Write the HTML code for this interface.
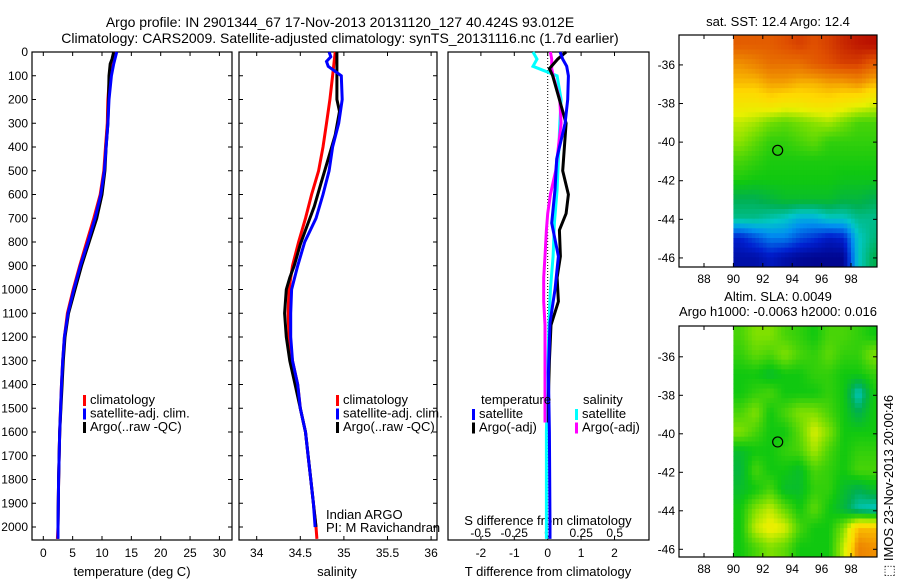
<!DOCTYPE html>
<html><head><meta charset="utf-8"><style>
body{margin:0;background:#fff}
svg{display:block;font-family:"Liberation Sans",sans-serif;font-size:13px}
</style></head><body>
<svg id="c" width="900" height="580" viewBox="0 0 900 580"></svg>
<script>
// ---------- data ----------
const depthT = [0,50,100,200,300,400,500,600,700,800,900,1000,1100,1200,1300,1400,1600,1800,2000,2050];
const tempClim = [12.2,11.8,11.3,11.0,10.9,10.6,10.3,9.7,8.6,7.4,6.2,5.1,4.1,3.6,3.3,3.1,2.8,2.6,2.5,2.4];
const tempSat  = [12.5,12.0,11.6,11.2,11.0,10.7,10.4,9.8,8.8,7.6,6.3,5.2,4.2,3.6,3.3,3.1,2.8,2.6,2.5,2.5];
const depthArgo = [0,30,50,100,200,300,400,500,600,700,800,900,1000,1100,1200,1300,1400,1600,1800,2000];
const tempArgo = [12.0,11.7,11.4,11.2,11.1,11.0,10.7,10.5,10.0,9.1,7.8,6.5,5.4,4.3,3.7,3.4,3.2,2.8,2.6,2.5];
const depthS = [0,100,200,300,400,500,600,700,800,900,1000,1100,1200,1300,1400,1500,1600,1700,1800,1900,2000,2050];
const salClim = [34.90,34.87,34.84,34.80,34.76,34.71,34.63,34.56,34.48,34.41,34.37,34.36,34.37,34.41,34.47,34.50,34.56,34.59,34.62,34.65,34.68,34.69];
const depthSS = [0,20,40,60,100,200,300,400,500,600,700,800,900,1000,1100,1200,1300,1400,1500,1600,1700,1800,1900,2000];
const salSat  = [34.83,34.85,34.80,34.82,34.97,34.98,34.94,34.87,34.83,34.76,34.68,34.55,34.47,34.40,34.39,34.39,34.41,34.47,34.50,34.56,34.59,34.62,34.65,34.67];
const depthSA = [0,100,200,250,350,450,550,650,750,810,900,950,1000,1100,1200,1300,1400,1500,1600,1800,2000];
const salArgo = [34.92,34.92,34.92,34.95,34.90,34.82,34.74,34.66,34.56,34.50,34.43,34.38,34.34,34.32,34.34,34.38,34.44,34.50,34.56,34.62,34.68];
const depthD = [0,30,60,100,200,300,450,580,720,860,1000,1140,1350,1600,2000,2050];
const dTsat = [0.37,0.45,0.57,0.62,0.60,0.52,0.27,0.22,0.12,0.32,0.22,0.07,0.02,0.05,0.07,0.07];
const dSsat = [-0.11,-0.08,-0.11,0.07,0.10,0.09,0.08,0.07,0.05,0.04,0.02,0.01,0.0,-0.01,-0.01,-0.01];
const depthDA = [0,30,70,100,200,300,400,500,600,680,750,860,950,1050,1150,1300,1450,1560];
const dTargo = [0.55,0.30,0.05,0.15,0.35,0.55,0.50,0.45,0.62,0.55,0.35,0.38,0.28,0.32,0.10,0.05,0.02,0.02];
const dSargo = [0.02,0.03,0.03,0.04,0.09,0.10,0.08,0.06,0.02,0.0,-0.01,-0.02,-0.03,-0.03,-0.02,-0.02,-0.02,-0.02];
const depthTicks = [0,100,200,300,400,500,600,700,800,900,1000,1100,1200,1300,1400,1500,1600,1700,1800,1900,2000];
const tempTicks = [0,5,10,15,20,25,30];
const salTicks = [34,34.5,35,35.5,36];
const salTickLabels = ["34","34.5","35","35.5","36"];
const dTTicks = [-2,-1,0,1,2];
const dSTicks = [-0.5,-0.25,0,0.25,0.5];
const dSTickLabels = ["-0.5","-0.25","0","0.25","0.5"];
const lonTicks = [88,90,92,94,96,98];
const latTicks = [-36,-38,-40,-42,-44,-46];
const sstGrid = [
 [0.88,0.88,0.88,0.90,0.92,0.90,0.92,0.95,0.97,0.98],
 [0.80,0.82,0.85,0.85,0.85,0.88,0.90,0.92,0.92,0.88],
 [0.75,0.75,0.78,0.78,0.76,0.76,0.78,0.78,0.80,0.76],
 [0.68,0.68,0.70,0.68,0.68,0.70,0.70,0.68,0.66,0.63],
 [0.60,0.58,0.54,0.52,0.54,0.56,0.58,0.54,0.50,0.50],
 [0.56,0.52,0.48,0.48,0.50,0.52,0.48,0.48,0.48,0.48],
 [0.50,0.48,0.46,0.46,0.46,0.46,0.46,0.46,0.46,0.46],
 [0.46,0.45,0.45,0.45,0.45,0.45,0.45,0.44,0.44,0.44],
 [0.38,0.38,0.40,0.42,0.42,0.42,0.42,0.40,0.40,0.38],
 [0.34,0.34,0.32,0.30,0.26,0.26,0.30,0.30,0.34,0.34],
 [0.10,0.15,0.20,0.20,0.15,0.12,0.08,0.10,0.30,0.35],
 [0.05,0.05,0.08,0.05,0.03,0.02,0.02,0.02,0.30,0.38]];
const slaGrid = [
 [0.50,0.55,0.55,0.50,0.48,0.45,0.50,0.50,0.48,0.45],
 [0.48,0.52,0.50,0.55,0.50,0.48,0.52,0.48,0.48,0.55],
 [0.45,0.45,0.42,0.45,0.45,0.48,0.48,0.45,0.45,0.48],
 [0.45,0.48,0.50,0.45,0.45,0.45,0.48,0.45,0.30,0.45],
 [0.50,0.55,0.45,0.50,0.55,0.55,0.50,0.45,0.38,0.45],
 [0.55,0.50,0.45,0.45,0.52,0.62,0.55,0.45,0.45,0.45],
 [0.42,0.45,0.45,0.48,0.50,0.58,0.50,0.45,0.48,0.48],
 [0.40,0.50,0.45,0.45,0.42,0.50,0.48,0.45,0.50,0.50],
 [0.42,0.45,0.50,0.42,0.42,0.48,0.48,0.42,0.38,0.42],
 [0.45,0.55,0.60,0.52,0.45,0.52,0.45,0.40,0.32,0.30],
 [0.45,0.60,0.65,0.62,0.50,0.45,0.45,0.55,0.75,0.75],
 [0.45,0.50,0.55,0.52,0.45,0.45,0.45,0.60,0.82,0.80]];
const floatLon = 93.012, floatLat = -40.424;

// ---------- helpers ----------
const svg = document.getElementById('c');
const NS = 'http://www.w3.org/2000/svg';
function mk(tag, attrs, parent){const e=document.createElementNS(NS,tag);for(const k in attrs)e.setAttribute(k,attrs[k]);(parent||svg).appendChild(e);return e;}
function txt(x,y,s,anchor,parent){const t=mk('text',{x:x,y:y,'text-anchor':anchor||'middle'},parent);t.textContent=s;return t;}
function tick(x,y,s,anchor,name){const t=txt(x,y,s,anchor);t.setAttribute('font-size','12');return t;}
const yD = d => 52 + d*0.2375;
const PT=52, PB=540;
function frame(x0,x1,name){const r=mk('rect',{x:x0,y:PT,width:x1-x0,height:PB-PT,fill:'none',stroke:'#000','stroke-width':1.2});}
function depthTickMarks(x0,x1){depthTicks.forEach(d=>{mk('line',{x1:x0,y1:yD(d),x2:x0+4,y2:yD(d),stroke:'#000'});mk('line',{x1:x1,y1:yD(d),x2:x1-4,y2:yD(d),stroke:'#000'});});}
function profile(depths,vals,sx,color,name,w){const pts=depths.map((d,i)=>sx(vals[i]).toFixed(1)+','+yD(d).toFixed(1)).join(' ');const p=mk('polyline',{points:pts,fill:'none',stroke:color,'stroke-width':w||3,'stroke-linejoin':'miter'});}
function legend(x,y,items,parent){items.forEach((it,i)=>{mk('rect',{x:x,y:y+i*13.5-9,width:3,height:11,fill:it[0]});const t=txt(x+7,y+i*13.5,it[1],'start');});}

// titles
let t1=txt(340,27,'Argo profile: IN 2901344_67 17-Nov-2013 20131120_127 40.424S 93.012E');t1.setAttribute('font-size','14');
let t2=txt(340,43,'Climatology: CARS2009. Satellite-adjusted climatology: synTS_20131116.nc (1.7d earlier)');t2.setAttribute('font-size','14');

// ---------- panel 1 temperature ----------
const sxT = v => 43.3 + v*5.87;
frame(32,232,'temperature-panel');
depthTickMarks(32,232);
depthTicks.forEach(d=>tick(28,yD(d)+4,String(d),'end','depth-tick-label'));
tempTicks.forEach(v=>{mk('line',{x1:sxT(v),y1:PB,x2:sxT(v),y2:PB-4,stroke:'#000'});mk('line',{x1:sxT(v),y1:PT,x2:sxT(v),y2:PT+4,stroke:'#000'});tick(sxT(v),557,String(v),'middle','temperature-tick-label');});
let xt1=txt(132,576,'temperature (deg C)');
profile(depthT,tempClim,sxT,'#ff0000','temp-climatology-line');
profile(depthArgo,tempArgo,sxT,'#000000','temp-argo-line');
profile(depthT,tempSat,sxT,'#0000ff','temp-satellite-line');
legend(83,404,[['#ff0000','climatology'],['#0000ff','satellite-adj. clim.'],['#000','Argo(..raw -QC)']]);

// ---------- panel 2 salinity ----------
const sxS = v => 256.7 + (v-34)*87.2;
frame(239,437,'salinity-panel');
depthTickMarks(239,437);
salTicks.forEach((v,i)=>{mk('line',{x1:sxS(v),y1:PB,x2:sxS(v),y2:PB-4,stroke:'#000'});mk('line',{x1:sxS(v),y1:PT,x2:sxS(v),y2:PT+4,stroke:'#000'});tick(sxS(v),557,salTickLabels[i],'middle','salinity-tick-label');});
let xt2=txt(337,576,'salinity');
profile(depthS,salClim,sxS,'#ff0000','sal-climatology-line');
profile(depthSA,salArgo,sxS,'#000000','sal-argo-line');
profile(depthSS,salSat,sxS,'#0000ff','sal-satellite-line');
legend(336,404,[['#ff0000','climatology'],['#0000ff','satellite-adj. clim.'],['#000','Argo(..raw -QC)']]);
let ia=txt(326,519,'Indian ARGO','start');
let pi=txt(326,532,'PI: M Ravichandran','start');

// ---------- panel 3 differences ----------
const sxDT = v => 547.7 + v*33.4;
const sxDS = v => 547.7 + v*134;
frame(448,649,'difference-panel');
mk('line',{x1:547.7,y1:PT,x2:547.7,y2:PB,stroke:'#000','stroke-dasharray':'1,2'});
dTTicks.forEach(v=>{mk('line',{x1:sxDT(v),y1:PB,x2:sxDT(v),y2:PB-4,stroke:'#000'});mk('line',{x1:sxDT(v),y1:PT,x2:sxDT(v),y2:PT+4,stroke:'#000'});tick(sxDT(v),557,String(v),'middle','t-diff-tick-label');});
dSTicks.forEach((v,i)=>tick(sxDS(v),537,dSTickLabels[i],'middle','s-diff-tick-label'));
let sd=txt(548,525,'S difference from climatology');
let td=txt(548,576,'T difference from climatology');
profile(depthD,dSsat,sxDS,'#00ffff','s-diff-satellite-line');
profile(depthDA,dSargo,sxDS,'#ff00ff','s-diff-argo-line');
profile(depthDA,dTargo,sxDT,'#000000','t-diff-argo-line');
profile(depthD,dTsat,sxDT,'#0000ff','t-diff-satellite-line');
let lt=txt(481,404,'temperature','start');
legend(472,418,[['#0000ff','satellite'],['#000','Argo(-adj)']]);
let ls=txt(583,404,'salinity','start');
legend(575,418,[['#00ffff','satellite'],['#ff00ff','Argo(-adj)']]);

// ---------- maps ----------
const cmStops=[[0,[0,0,128]],[0.1,[0,32,208]],[0.22,[0,144,240]],[0.3,[0,200,200]],[0.38,[0,176,80]],[0.45,[16,200,16]],[0.55,[128,224,0]],[0.63,[232,240,0]],[0.72,[255,216,0]],[0.8,[240,144,0]],[0.9,[224,80,0]],[1,[176,0,0]]];
function cmap(v){for(let i=1;i<cmStops.length;i++){if(v<=cmStops[i][0]){const a=cmStops[i-1],b=cmStops[i],f=(v-a[0])/(b[0]-a[0]);return 'rgb('+a[1].map((c,k)=>Math.round(c+(b[1][k]-c)*f)).join(',')+')';}}return 'rgb(176,0,0)';}
function sample(grid,r,c){const nr=grid.length,nc=grid[0].length;r=Math.max(0,Math.min(nr-1,r));c=Math.max(0,Math.min(nc-1,c));const r0=Math.floor(r),c0=Math.floor(c),r1=Math.min(nr-1,r0+1),c1=Math.min(nc-1,c0+1),fr=r-r0,fc=c-c0;return grid[r0][c0]*(1-fr)*(1-fc)+grid[r0][c1]*(1-fr)*fc+grid[r1][c0]*fr*(1-fc)+grid[r1][c1]*fr*fc;}
function drawMap(top,bottom,latTop,latBot,grid,name){
  const X0=679,X1=877;
  const sx=lon=>733.4+(lon-90)*14.7;
  const sy=lat=>top+(latTop-lat)/(latTop-latBot)*(bottom-top);
  const g=mk('g',{});
  const nr=grid.length, nc=grid[0].length, dlat=(latTop-latBot)/nr, sub=4;
  for(let r=0;r<nr*sub;r++)for(let c=0;c<nc*sub;c++){
    const v=sample(grid,(r+0.5)/sub-0.5,(c+0.5)/sub-0.5);
    const x0=sx(90+c/sub), x1=Math.min(sx(90+(c+1)/sub),X1);
    if(x1<=x0)continue;
    const y0=sy(latTop-r/sub*dlat), y1=sy(latTop-(r+1)/sub*dlat);
    const cell=mk('rect',{x:x0,y:y0,width:x1-x0+0.4,height:y1-y0+0.4,fill:cmap(v)},g);
    
    
  }
  mk('rect',{x:X0,y:top,width:X1-X0,height:bottom-top,fill:'none',stroke:'#000','stroke-width':1.2});
  lonTicks.forEach(l=>{mk('line',{x1:sx(l),y1:bottom,x2:sx(l),y2:bottom-4,stroke:'#000'});mk('line',{x1:sx(l),y1:top,x2:sx(l),y2:top+4,stroke:'#000'});tick(sx(l),bottom+16,String(l),'middle','lon-tick-label');});
  latTicks.forEach(l=>{mk('line',{x1:X0,y1:sy(l),x2:X0+4,y2:sy(l),stroke:'#000'});mk('line',{x1:X1,y1:sy(l),x2:X1-4,y2:sy(l),stroke:'#000'});tick(X0-4,sy(l)+4,String(l),'end','lat-tick-label');});
  const c=mk('circle',{cx:sx(floatLon),cy:sy(floatLat),r:5,fill:'none',stroke:'#000','stroke-width':1.2});
  
}
drawMap(35,267,-34.45,-46.47,sstGrid,'sst-map');
drawMap(326,557,-34.4,-46.4,slaGrid,'sla-map');
let m1=txt(778,26,'sat. SST: 12.4  Argo: 12.4');
let m2=txt(778,301,'Altim. SLA: 0.0049');
let m3=txt(778,316,'Argo h1000: -0.0063 h2000: 0.016');
const vt=mk('text',{x:0,y:0,'text-anchor':'middle',transform:'translate(893,486) rotate(-90)'});
vt.textContent='\u2B1A IMOS 23-Nov-2013 20:00:46';


</script>
</body></html>
